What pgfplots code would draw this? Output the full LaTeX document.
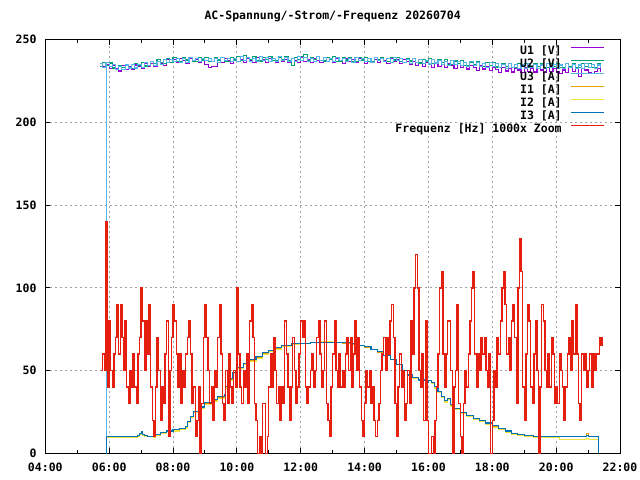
\documentclass[border=0pt]{standalone}
\usepackage{pgfplots}
\pgfplotsset{compat=1.18}
\usepackage{pgfplotstable}
\usepackage{fontspec}
\setmainfont{DejaVu Sans Mono}
\definecolor{cU1}{HTML}{9400D3}
\definecolor{cU2}{HTML}{009E73}
\definecolor{cU3}{HTML}{56B4E9}
\definecolor{cI1}{HTML}{E69F00}
\definecolor{cI2}{HTML}{F0E442}
\definecolor{cI3}{HTML}{0072B2}
\definecolor{cF}{HTML}{E51E10}
\definecolor{cgrid}{HTML}{A0A0A0}

\pgfplotstableread{
t U1 U2 U3
5.7 235.7 233.7 235.4
5.8 233.5 236.1 233.3
5.9 234.9 234.6 236.2
5.905 234.9 234.6 0
5.915 234.9 234.6 236.2
6.0 232.5 235.9 233.6
6.1 234.3 232.9 234.8
6.2 232.7 232.2 232.0
6.3 231.1 234.6 233.9
6.4 234.2 233.1 231.8
6.5 232.0 234.9 234.7
6.6 233.7 232.7 232.9
6.7 232.1 232.8 234.9
6.8 234.7 235.5 232.9
6.9 233.9 234.3 235.1
7.0 232.6 236.4 233.3
7.1 235.9 234.1 236.4
7.2 234.0 234.2 234.6
7.3 235.7 236.9 236.6
7.4 234.1 235.7 234.6
7.5 236.7 238.1 236.8
7.6 235.9 236.3 235.0
7.7 234.6 235.7 238.2
7.8 238.0 238.7 236.4
7.9 236.0 236.4 238.3
8.0 238.0 239.5 236.6
8.1 236.1 237.0 238.9
8.2 238.4 236.8 236.3
8.3 237.3 239.2 238.5
8.4 235.7 237.7 236.4
8.5 238.8 239.5 239.3
8.6 236.6 237.0 237.2
8.7 238.0 236.8 238.9
8.8 236.1 239.2 236.6
8.9 238.4 237.7 238.5
9.0 234.8 239.5 237.2
9.1 233.2 237.0 238.9
9.2 234.0 236.8 236.6
9.3 233.6 239.2 238.5
9.4 238.0 237.7 236.4
9.5 236.1 239.5 239.3
9.6 238.4 237.0 237.2
9.7 237.3 236.8 238.9
9.8 235.7 239.2 236.6
9.9 238.8 237.7 238.5
10.0 236.9 239.8 236.7
10.1 238.3 237.3 239.6
10.2 236.4 240.5 237.5
10.3 238.7 239.5 239.2
10.4 237.6 238.0 236.9
10.5 236.0 239.8 238.8
10.6 239.1 237.3 236.7
10.7 236.9 237.1 239.6
10.8 238.3 239.5 237.5
10.9 236.4 238.0 239.2
11.0 238.7 239.8 236.9
11.1 237.6 237.3 238.8
11.2 236.0 237.1 236.7
11.3 239.1 239.5 239.6
11.4 236.9 238.0 237.5
11.5 238.3 239.8 239.2
11.6 236.4 237.3 236.9
11.7 238.7 234.5 238.8
11.8 237.6 239.5 236.7
11.9 236.0 238.0 239.6
12.0 239.1 239.8 237.5
12.1 236.9 240.8 239.2
12.2 238.3 237.1 236.9
12.3 236.4 239.5 238.8
12.4 238.7 238.0 236.7
12.5 237.6 239.8 239.6
12.6 236.0 237.3 237.5
12.7 239.1 237.1 239.2
12.8 236.9 239.5 236.9
12.9 238.3 238.0 238.8
13.0 236.4 239.8 236.7
13.1 238.4 237.0 239.3
13.2 237.3 236.8 237.2
13.3 235.7 239.2 238.9
13.4 238.8 237.7 236.6
13.5 236.6 239.5 238.5
13.6 238.0 237.0 236.4
13.7 236.1 236.8 239.3
13.8 238.4 239.2 237.2
13.9 237.3 237.7 238.9
14.0 235.7 239.5 236.6
14.1 238.8 237.0 238.5
14.2 236.6 236.8 236.4
14.3 238.0 239.2 239.3
14.4 236.1 237.7 237.2
14.5 238.4 239.5 238.9
14.6 237.3 237.0 236.6
14.7 235.7 236.8 238.5
14.8 238.8 239.2 236.4
14.9 236.6 237.7 239.3
15.0 238.0 239.5 237.2
15.1 235.8 236.7 238.6
15.2 238.0 236.4 236.2
15.3 236.8 238.7 238.0
15.4 235.1 237.1 235.8
15.5 236.9 238.8 238.6
15.6 234.6 236.2 236.4
15.7 235.9 235.9 238.0
15.8 233.9 238.2 235.6
15.9 236.1 236.6 237.4
16.0 235.0 238.4 235.3
16.1 233.3 235.8 238.1
16.2 236.3 235.5 235.9
16.3 234.0 237.8 237.5
16.4 235.2 236.1 235.0
16.5 233.2 237.8 236.8
16.6 235.4 235.2 234.6
16.7 234.2 234.9 237.4
16.8 232.4 237.1 235.1
16.9 235.4 235.5 236.7
17.0 233.1 237.2 234.3
17.1 234.4 234.6 236.1
17.2 232.3 234.2 233.8
17.3 234.5 236.5 236.6
17.4 233.3 234.9 234.4
17.5 231.6 236.6 236.0
17.6 234.6 234.0 233.6
17.7 232.3 233.7 235.4
17.8 233.6 236.0 233.2
17.9 231.6 234.4 236.0
18.0 233.2 236.1 233.8
18.1 232.0 233.5 235.4
18.2 230.3 233.2 233.0
18.3 233.4 235.6 234.9
18.4 231.1 234.0 232.7
18.5 232.5 235.8 235.6
18.6 230.5 233.2 233.4
18.7 232.8 233.0 235.1
18.8 231.7 235.4 232.8
18.9 230.1 233.9 234.7
19.0 233.2 235.7 232.6
19.1 231.0 233.2 235.5
19.2 232.4 233.0 233.4
19.3 230.5 235.4 235.1
19.4 232.8 233.9 232.8
19.5 231.7 235.7 234.7
19.6 230.1 233.2 232.6
19.7 233.2 233.0 235.5
19.8 231.0 235.4 233.4
19.9 232.4 233.9 235.1
20.0 230.5 235.7 232.8
20.1 229.5 233.2 234.7
20.2 231.7 233.0 232.6
20.3 230.1 235.4 235.5
20.4 233.2 233.9 233.4
20.5 231.0 235.7 235.1
20.6 232.4 233.2 232.8
20.7 228.0 233.0 234.7
20.8 232.8 235.4 232.6
20.9 231.7 233.9 235.5
21.0 230.1 235.7 233.4
21.1 229.8 233.2 235.1
21.2 231.0 233.0 232.8
21.3 232.4 235.4 234.7
21.4 230.5 233.9 232.6
}\voltdata

\pgfplotstableread{
t I1 I2 I3
5.905 0 0 0
5.91 10 9.5 10
6.0 10 9.5 10
6.5 10 9.5 10
6.9 10.5 10 10.5
6.95 12 11.5 12
7.0 13 12.5 13
7.05 11.5 11 11.5
7.1 10.5 10 10.5
7.2 10.3 10 10.3
7.4 10.3 9.8 10.3
7.45 11.5 11 11.5
7.6 12.5 12 12.5
7.8 13.5 13 13.5
8.0 14 13.5 14.2
8.2 15 14.5 15.2
8.4 15.8 15.3 16
8.45 19 18.5 19
8.55 22 21.5 22.5
8.65 25 24.5 25.5
8.8 27.5 27 28
9.0 30 29.5 30.5
9.2 32 31.5 32.5
9.4 33.8 33.2 34.2
9.6 35 34.5 35.5
9.65 40 39.5 40.5
9.75 44.5 44 45
9.85 48.5 48 49
10.0 51.5 51 52
10.2 54 53.5 54.5
10.4 56 55.5 56.5
10.6 58 57.5 58.5
10.8 60.2 59.8 60.7
11.0 62 61.5 62.4
11.2 63.5 63 64
11.4 64.8 64.3 65.2
11.7 65.8 65.5 66.2
12.0 66.2 66.5 66.6
12.3 66.8 67.2 67
12.6 67 67.4 67.2
13.0 66.8 67.2 67
13.3 66.5 66.9 66.8
13.6 65.8 66.2 66.1
13.8 65 65.4 65.3
14.0 64 64.3 64.3
14.2 62.8 63 63
14.4 61 61.3 61.3
14.6 59 59.2 59.3
14.8 56.5 56.8 56.8
15.0 53.5 53.8 53.8
15.2 50 50.2 50.3
15.35 47 47.2 47.3
15.5 45.5 45.5 45.8
15.7 44 44 44.3
15.9 42.8 42.8 43
16.0 44 43.8 44.2
16.1 42.8 42.5 43
16.2 40 39.5 40.3
16.3 37 36.5 37.3
16.4 34 33.5 34.3
16.5 31.5 31 31.8
16.6 32.8 32.3 33
16.7 29 28.5 29.3
16.8 27 26.5 27.3
17.0 24.5 24 24.8
17.2 22.5 22 22.8
17.4 21 20.5 21.3
17.6 19.5 19 19.8
17.8 18 17.5 18.3
18.0 16.3 15.8 16.6
18.2 14.8 14.3 15.1
18.4 13.3 12.8 13.5
18.6 12 11.5 12.2
18.8 11.2 10.7 11.3
19.0 10.6 10.2 10.7
19.3 10.2 9.8 10.2
19.6 10 9.6 10
20.0 10.2 9.6 10
20.1 10 8.5 10
20.5 10.2 8.5 10
20.9 10 8.5 10
20.95 12 9 10.5
21.0 10 8.5 10
21.33 0 0 0
}\curdata

\pgfplotstableread{
t f
5.75 50
5.80 60
5.85 50
5.90 140
5.95 40
6.00 80
6.05 50
6.10 40
6.15 60
6.20 70
6.25 90
6.30 60
6.35 90
6.40 70
6.45 50
6.50 80
6.55 40
6.60 30
6.65 50
6.70 40
6.75 60
6.80 40
6.85 30
6.90 60
6.95 70
7.00 100
7.05 80
7.10 50
7.15 80
7.20 60
7.25 90
7.30 40
7.35 20
7.40 10
7.45 40
7.50 70
7.55 50
7.60 20
7.65 40
7.70 30
7.75 60
7.80 80
7.85 10
7.90 50
7.95 70
8.00 90
8.05 80
8.10 60
8.15 40
8.20 60
8.25 30
8.30 50
8.35 40
8.40 60
8.45 70
8.50 80
8.55 60
8.60 30
8.65 40
8.70 10
8.75 20
8.80 40
8.85 0
8.90 30
8.95 70
9.00 90
9.05 70
9.10 50
9.15 30
9.20 40
9.25 20
9.30 50
9.35 40
9.40 70
9.45 90
9.50 60
9.55 30
9.60 20
9.65 50
9.70 30
9.75 60
9.80 40
9.85 30
9.90 50
9.95 40
10.00 100
10.05 60
10.10 40
10.15 30
10.20 50
10.25 40
10.30 60
10.35 30
10.40 80
10.45 90
10.50 70
10.55 30
10.60 20
10.65 0
10.70 10
10.75 0
10.80 30
10.85 30
10.90 0
10.95 10
11.00 40
11.05 60
11.10 40
11.15 70
11.20 50
11.25 30
11.30 40
11.35 20
11.40 40
11.45 30
11.50 80
11.55 60
11.60 40
11.65 20
11.70 40
11.75 70
11.80 50
11.85 30
11.90 40
11.95 60
12.00 80
12.05 70
12.10 80
12.15 40
12.20 30
12.25 40
12.30 50
12.35 60
12.40 40
12.45 50
12.50 70
12.55 80
12.60 60
12.65 40
12.70 50
12.75 80
12.80 30
12.85 20
12.90 10
12.95 40
13.00 60
13.05 80
13.10 50
13.15 40
13.20 60
13.25 40
13.30 50
13.35 40
13.40 60
13.45 70
13.50 50
13.55 70
13.60 40
13.65 60
13.70 80
13.75 50
13.80 70
13.85 40
13.90 20
13.95 10
14.00 30
14.05 50
14.10 40
14.15 50
14.20 30
14.25 40
14.30 20
14.35 10
14.40 20
14.45 30
14.50 50
14.55 60
14.60 70
14.65 50
14.70 70
14.75 60
14.80 80
14.85 90
14.90 70
14.95 30
15.00 10
15.05 40
15.10 60
15.15 40
15.20 50
15.25 20
15.30 30
15.35 50
15.40 30
15.45 80
15.50 60
15.55 100
15.60 120
15.65 100
15.70 50
15.75 40
15.80 60
15.85 20
15.90 80
15.95 20
16.00 0
16.05 0
16.10 10
16.15 0
16.20 20
16.25 40
16.30 60
16.35 100
16.40 110
16.45 60
16.50 40
16.55 60
16.60 80
16.65 80
16.70 50
16.75 0
16.80 40
16.85 50
16.90 90
16.95 30
17.00 10
17.05 0
17.10 30
17.15 50
17.20 40
17.25 60
17.30 80
17.35 100
17.40 110
17.45 60
17.50 40
17.55 60
17.60 50
17.65 70
17.70 60
17.75 70
17.80 50
17.85 40
17.90 60
17.95 0
18.00 20
18.05 50
18.10 40
18.15 70
18.20 60
18.25 80
18.30 100
18.35 110
18.40 90
18.45 60
18.50 70
18.55 50
18.60 80
18.65 90
18.70 70
18.75 30
18.80 100
18.85 130
18.90 110
18.95 40
19.00 20
19.05 60
19.10 90
19.15 80
19.20 40
19.25 30
19.30 60
19.35 80
19.40 50
19.45 0
19.50 40
19.55 90
19.60 80
19.65 50
19.70 40
19.75 60
19.80 40
19.85 70
19.90 60
19.95 30
20.00 40
20.05 30
20.10 60
20.15 50
20.20 40
20.25 20
20.30 40
20.35 60
20.40 70
20.45 50
20.50 80
20.55 60
20.60 90
20.65 60
20.70 30
20.75 20
20.80 60
20.85 50
20.90 60
20.95 40
21.00 50
21.05 60
21.10 40
21.15 60
21.20 50
21.25 60
21.30 60
21.35 70
21.40 65
21.45 70
}\freqdata

\begin{document}
\begin{tikzpicture}[font=\fontsize{11.5bp}{13bp}\selectfont\bfseries]
\path[use as bounding box] (0,0) rectangle (640bp,480bp);
\begin{axis}[
  at={(45.3bp,26.7bp)}, anchor=south west,
  scale only axis, width=574.7bp, height=413.6bp,
  xmin=4, xmax=22, ymin=0, ymax=250,
  xtick={4,6,...,22},
  xticklabels={04:00,06:00,08:00,10:00,12:00,14:00,16:00,18:00,20:00,22:00},
  minor x tick num=1,
  ytick={0,50,...,250},
  /pgf/number format/assume math mode=true,
  tick align=inside,
  major tick length=5bp, minor tick length=3bp,
  tick style={black, line width=1bp},
  axis line style={line width=1bp},
  xmajorgrids, ymajorgrids,
  major grid style={cgrid, line width=0.8bp, dash pattern=on 2bp off 3bp},
  xticklabel style={anchor=north, inner sep=0pt, yshift=-9.4bp},
  yticklabel style={anchor=east, inner sep=0pt, xshift=-8.6bp},
  title={AC-Spannung/-Strom/-Frequenz 20260704},
  title style={at={(0.5,1)}, anchor=base, yshift=14bp, inner sep=0pt},
  legend plot pos=right,
  legend cell align=right,
  legend image code/.code={\draw[#1] (0bp,4bp) -- (33bp,4bp);},
  legend style={at={(0.974,0.9865)}, anchor=north east, draw=none, fill=none,
    inner sep=0pt, outer sep=0pt, row sep=0pt, column sep=9bp,
    nodes={inner sep=0pt, text height=9bp, text depth=4bp}},
  every axis plot/.append style={line width=1.1bp},
]
\addplot[const plot, cU1] table[x=t, y=U1] {\voltdata};
\addlegendentry{U1 [V]}
\addplot[const plot, cU2] table[x=t, y=U2] {\voltdata};
\addlegendentry{U2 [V]}
\addplot[const plot, cU3] table[x=t, y=U3] {\voltdata};
\addlegendentry{U3 [A]}
\addplot[const plot, cI1] table[x=t, y=I1] {\curdata};
\addlegendentry{I1 [A]}
\addplot[const plot, cI2] table[x=t, y=I2] {\curdata};
\addlegendentry{I2 [A]}
\addplot[const plot, cI3] table[x=t, y=I3] {\curdata};
\addlegendentry{I3 [A]}
\addplot[const plot, cF, line width=1.4bp] table[x=t, y=f] {\freqdata};
\addlegendentry{Frequenz [Hz] 1000x Zoom}
\end{axis}
\end{tikzpicture}
\end{document}
